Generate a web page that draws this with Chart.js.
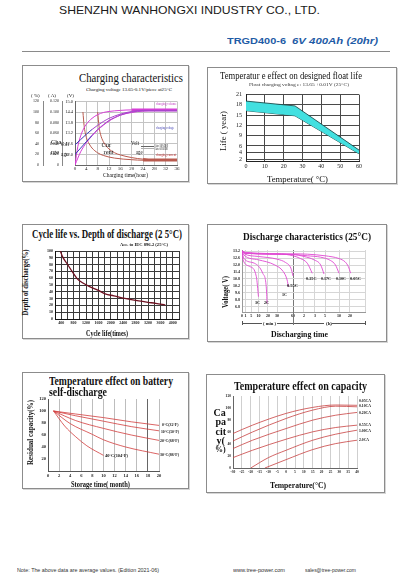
<!DOCTYPE html>
<html>
<head>
<meta charset="utf-8">
<script src="https://cdn.jsdelivr.net/npm/chart.js@4.4.1/dist/chart.umd.min.js"></script>
<style>
  html, body { margin: 0; padding: 0; background: #fff; }
  body { width: 407px; height: 575px; position: relative; overflow: hidden; }
  .panel { position: absolute; border: 1px solid #8c8c8c; box-shadow: 1px 1px 0 #d6d6d6; box-sizing: border-box; background: #fff; }
  canvas { position: absolute; }
  .t { position: absolute; white-space: nowrap; line-height: 1; }
  .ln { position: absolute; }
</style>
</head>
<body>
<script>
const SERIF = '"Liberation Serif","DejaVu Serif",serif';
const SANS = '"Liberation Sans",Arial,sans-serif';

// ---------- data ----------
// charging characteristics (hours, % of left scale)
const pctTicks = ['0', '20', '40', '60', '80', '100', '120'];
const ampTicks = ['0', '0.020', '0.040', '0.060', '0.080', '0.100', '0.120'];
const chargeVoltTicks = ['', '12.0', '12.6', '13.2', '13.8', '14.4', '15.0'];
const chargeVolumeA = [[0,0],[1,35],[2,55],[3,68],[4,77],[6,88],[8,95],[10,99],[12,101],[16,103],[20,104],[24,104],[28,104],[32,104],[36,104]];
const chargeVolumeB = [[0,0],[2,25],[4,42],[6,55],[8,66],[10,75],[12,83],[14,89],[16,94],[20,99],[24,102],[28,103],[32,103],[36,103]];
const chargeVoltageA = [[0,38],[2,48],[4,58],[6,67],[8,75],[10,82],[12,88],[16,96],[20,101],[24,103],[28,103],[32,103],[36,103]];
const chargeVoltageB = [[0,20],[2,32],[4,44],[6,56],[8,67],[10,76],[12,84],[16,94],[20,100],[24,102],[28,102],[32,102],[36,102]];
const chargeCurrentA = [[2.8,100],[3.2,75],[4,52],[5,40],[6,32],[8,23],[10,18],[14,13],[20,10],[24,9],[28,9],[32,9],[36,9]];
const chargeCurrentB = [[8,100],[8.5,72],[9,58],[10,44],[11,36],[12,30],[14,23],[16,19],[20,14],[24,11],[28,10],[32,10],[36,10]];

// float life vs temperature (°C, years)
const lifeTicks = [2, 4, 6, 9, 12, 15, 18, 21];
const lifeTemps = [0, 26, 60];
const lifeUpper = [19.1, 17.7, 4.8];
const lifeLower = [16.3, 14.8, 3.7];

// cycle life vs depth of discharge
const cycleTimes = [370, 450, 580, 750, 920, 1100, 1300, 1600, 1820, 2100, 2360, 2650, 2900, 3200, 3450, 3760];
const cycleDod = [100, 91, 82, 70, 59, 53, 48, 42, 37, 34, 31, 28.5, 26.5, 24.5, 23, 20.5];

// discharge characteristics (minutes, volts)
const dischargeTimeTicks = [0, 1, 5, 10, 20, 30, 60, 120, 180, 300, 600, 1200, 2400];
const dischargeTimeLabels = ['0', '1', '5', '10', '20', '30', '60', '2', '3', '5', '10', '20', ''];
const dischargeVoltTicks = [13.2, 12.6, 12.0, 11.4, 10.8, 10.2, 9.6, 9.0, 8.4];
const dischargeVoltLabels = ['13.2', '12.6', '12.0', '11.4', '10.8', '10.2', '9.6', '8.8', '6.8'];
const dis005 = [[0,13.25],[1,13.1],[60,12.97],[138,12.94],[300,12.8],[600,12.56],[935,12.27],[1110,11.87],[1250,11.3]];
const dis010 = [[0,13.2],[1,13.05],[60,12.91],[138,12.8],[248,12.68],[419,12.39],[523,12.01],[600,11.29]];
const dis017 = [[0,13.2],[1,13.02],[60,12.91],[120,12.74],[175,12.45],[248,12.01],[288,11.23]];
const dis025 = [[0,13.2],[1,13.0],[32,12.97],[60,12.8],[101,12.56],[138,12.16],[165,11.29]];
const dis055 = [[0,13.2],[0.5,13.0],[10,12.74],[30,12.51],[46,12.22],[56,11.73],[60,11.06]];
const dis1c = [[0,13.2],[0.5,12.88],[10,12.45],[27.5,12.01],[41.6,11.44],[48.9,10.71],[51.3,10.13]];
const dis2c = [[0,13.2],[0.5,12.59],[7.1,12.16],[14.5,11.29],[18.2,10.13],[19.1,8.69]];
const dis3c = [[0,13.2],[0.3,12.45],[4.1,11.87],[8.5,11.0],[10,9.27]];

// self-discharge (months, %)
const sd0 = [[1,100],[5,95],[10,89],[15,82],[20,76]];
const sd10 = [[1,100],[5,92],[10,83],[15,74],[20,67]];
const sd20 = [[1,100],[5,84],[10,71],[15,60],[20,51]];
const sd30 = [[1,100],[4,79],[8,61],[10,52],[14,40],[20,28]];
const sd40 = [[1,100],[3,75],[5,57],[7,42],[10,26]];

// capacity vs temperature (°C, %)
const cap005 = [[-30,57.5],[-19,71.4],[0,91],[15,101],[28,105],[40,104.5]];
const cap010 = [[-30,45],[-19,60],[0,82.6],[15,96.5],[28,103],[40,102]];
const cap020 = [[-30,32.4],[-19,46.3],[0,65.8],[15,79.8],[28,88],[40,92.6]];
const cap055 = [[-30,17.3],[-19,29.6],[0,48],[15,60.3],[28,67.5],[40,71.4]];
const cap100 = [[-20,0],[-10,17.3],[0,29.6],[15,46.3],[28,56.4],[40,63]];
const cap200 = [[-12,0],[0,14],[15,30.7],[28,40.7],[40,46.3]];

// ---------- helpers ----------
function box(x, y, w, h) {
  const d = document.createElement('div');
  d.className = 'panel';
  Object.assign(d.style, { left: x + 'px', top: y + 'px', width: w + 'px', height: h + 'px' });
  document.body.appendChild(d);
}
function rule(x, y, w, h, color) {
  const d = document.createElement('div');
  d.className = 'ln';
  Object.assign(d.style, { left: x + 'px', top: y + 'px', width: w + 'px', height: h + 'px', background: color });
  document.body.appendChild(d);
}
function txt(s, x, y, o) {
  o = o || {};
  const size = o.size || 6;
  const d = document.createElement('div');
  d.className = 't';
  d.textContent = s;
  d.style.font = (o.style || 'normal') + ' ' + (o.weight || 'normal') + ' ' + size + 'px ' + (o.family || SERIF);
  d.style.color = o.color || '#111';
  document.body.appendChild(d);
  const nw = d.getBoundingClientRect().width;
  const sx = o.w ? o.w / nw : 1;
  if (o.rot) {
    d.style.left = (x - nw / 2) + 'px';
    d.style.top = (y - size / 2) + 'px';
    d.style.transformOrigin = 'center center';
    d.style.transform = 'rotate(-90deg) scaleX(' + sx + ')';
  } else {
    d.style.left = x + 'px';
    d.style.top = (y - size / 2) + 'px';
    d.style.transformOrigin = 'left center';
    d.style.transform = 'scaleX(' + sx + ')';
  }
}
function pts(a) { return a.map(p => ({ x: p[0], y: p[1] })); }
function zip(xs, ys) { return xs.map((x, i) => ({ x: x, y: ys[i] })); }
function curve(a, color, w, extra) {
  return Object.assign({ data: pts(a), borderColor: color, borderWidth: w || 1, cubicInterpolationMode: 'monotone', pointRadius: 0, fill: false }, extra || {});
}
function tickFont(size, weight) { return { family: SERIF, size: size, weight: weight || 'normal' }; }

// plot = [left, top, right, bottom] of the chart area on the page, m = margins around it
function makeChart(plot, m, config) {
  const c = document.createElement('canvas');
  const w = plot[2] - plot[0] + m.l + m.r, h = plot[3] - plot[1] + m.t + m.b;
  c.width = w; c.height = h;
  Object.assign(c.style, { left: (plot[0] - m.l) + 'px', top: (plot[1] - m.t) + 'px', width: w + 'px', height: h + 'px' });
  document.body.appendChild(c);
  config.options = Object.assign({
    responsive: false, animation: false, devicePixelRatio: 1,
    layout: { padding: { left: 0, top: m.t, right: m.r, bottom: 0 } },
    plugins: { legend: { display: false }, tooltip: { enabled: false } },
    elements: { point: { radius: 0 } }
  }, config.options);
  return new Chart(c, config);
}

// piecewise time axis of the discharge chart
const timeAxisFractions = [0, 0.028, 0.076, 0.134, 0.211, 0.285, 0.415, 0.504, 0.593, 0.675, 0.789, 0.878, 1];
class PiecewiseScale extends Chart.LinearScale {
  buildTicks() { return dischargeTimeTicks.map(v => ({ value: v })); }
  getPixelForValue(value) {
    const t = dischargeTimeTicks, f = timeAxisFractions;
    let dec = value <= t[0] ? f[0] : f[f.length - 1];
    for (let i = 1; i < t.length; i++) {
      if (value > t[i - 1] && value <= t[i]) {
        dec = f[i - 1] + (value - t[i - 1]) / (t[i] - t[i - 1]) * (f[i] - f[i - 1]);
        break;
      }
    }
    return this.getPixelForDecimal(dec);
  }
  getValueForPixel(pixel) {
    const t = dischargeTimeTicks, f = timeAxisFractions;
    const dec = this.getDecimalForPixel(pixel);
    for (let i = 1; i < f.length; i++) {
      if (dec <= f[i]) return t[i - 1] + (dec - f[i - 1]) / (f[i] - f[i - 1]) * (t[i] - t[i - 1]);
    }
    return t[t.length - 1];
  }
}
PiecewiseScale.id = 'piecewise';
PiecewiseScale.defaults = Chart.LinearScale.defaults;
Chart.register(PiecewiseScale);

// ---------- page frame ----------
txt('SHENZHN WANHONGXI INDUSTRY CO., LTD.', 59, 10, { family: SANS, size: 11.5, w: 261, color: '#1a1a1a' });
txt('TRGD400-6', 227, 40, { family: SANS, size: 9.5, weight: 'bold', color: '#1f5ca6', w: 59 });
txt('6V 400Ah (20hr)', 292, 40, { family: SANS, size: 9.5, weight: 'bold', style: 'italic', color: '#1f5ca6', w: 86 });
rule(22, 51, 368, 1, '#8a8a8a');

box(22, 65, 167, 117);
box(207, 67, 190, 117);
box(22, 224, 167, 115);
box(207, 224, 180, 118);
box(22, 372, 167, 117);
box(206, 374, 179, 119);

// ---------- 1. charging characteristics ----------
const volColor = '#d63fd6', curColor = '#b85a4e';
const voltSeg = { segment: { borderColor: c => c.p0.parsed.x < 6 ? '#3a3ab8' : '#a846cc' } };
const thickAfter = h => ({ segment: { borderWidth: c => c.p0.parsed.x >= h ? 2.6 : 1 } });
makeChart([75, 100, 177, 165], { l: 52, t: 5, r: 8, b: 10 }, {
  type: 'line',
  data: { datasets: [
    curve(chargeVoltageA, '#3a3ab8', 1, voltSeg),
    curve(chargeVoltageB, '#3a3ab8', 1, voltSeg),
    curve(chargeVolumeA, volColor, 1, thickAfter(20)),
    curve(chargeVolumeB, volColor, 1),
    curve(chargeCurrentA, curColor, 1, thickAfter(24)),
    curve(chargeCurrentB, curColor, 1, thickAfter(24))
  ] },
  options: { scales: {
    x: { type: 'linear', min: 0, max: 36,
      ticks: { stepSize: 4, autoSkip: false, maxRotation: 0, padding: 1, font: tickFont(5), color: '#222' },
      grid: { color: '#c4c4c4', lineWidth: 1, drawTicks: false }, border: { color: '#666', width: 1 },
      afterFit: s => { s.height = 10; } },
    y: { type: 'linear', position: 'left', weight: 0, min: 0, max: 120,
      ticks: { stepSize: 20, autoSkip: false, padding: 2, font: tickFont(4.5), color: '#222', callback: (v, i) => chargeVoltTicks[i] },
      grid: { color: '#c4c4c4', lineWidth: 1, drawTicks: false }, border: { color: '#666', width: 1 },
      afterFit: s => { s.width = 13; } },
    yA: { type: 'linear', position: 'left', weight: 1, min: 0, max: 120,
      ticks: { stepSize: 20, autoSkip: false, padding: 3, font: tickFont(4), color: '#222', callback: (v, i) => ampTicks[i] },
      grid: { display: false, drawTicks: false }, border: { color: '#888', width: 1 },
      afterFit: s => { s.width = 19; } },
    yP: { type: 'linear', position: 'left', weight: 2, min: 0, max: 120,
      ticks: { stepSize: 20, autoSkip: false, padding: 4, font: tickFont(4), color: '#222', callback: (v, i) => pctTicks[i] },
      grid: { display: false, drawTicks: false }, border: { color: '#888', width: 1 },
      afterFit: s => { s.width = 20; } }
  } }
});
txt('Charging characteristics', 79, 76.5, { size: 13, w: 104 });
txt('Charging voltage   13.65-0.1V/piece  at25°C', 86, 89, { size: 5, w: 86 });
txt('( %)', 31, 95, { size: 5 });
txt('( A)', 48, 95, { size: 5 });
txt('(V)', 67, 95, { size: 5 });
txt('Cha', 51, 141, { size: 6.5 });
txt('Volt', 60, 143.5, { size: 5.5 });
txt('rge', 51, 151, { size: 6.5 });
txt('age', 61, 153.5, { size: 5.5 });
txt('Cur', 101.5, 144, { size: 6.5 });
txt('rent', 103.5, 151, { size: 6.5 });
txt('Volt', 131, 142, { size: 7, w: 8 });
txt('age', 136, 151, { size: 7, w: 6.5 });
rule(141, 145.5, 13, 0.7, '#666');
rule(141, 148.3, 13, 0.7, '#b0b0b0');
txt('After 100%DOD', 155, 145.3, { size: 3.5, w: 13 });
txt('After 50%DOD', 155, 148.3, { size: 3.5, w: 13 });
txt('charging volume', 155.5, 104, { size: 3.5, w: 20.5, color: '#c03cc0' });
txt('charging voltage', 155.5, 127.3, { size: 3.5, w: 18, color: '#3a3ab0' });
txt('charging current', 155.5, 155, { size: 3.5, w: 20, color: '#c03030' });
txt('Charging time(hour)', 103, 174.5, { size: 6.5, w: 45 });

// ---------- 2. float life ----------
makeChart([246, 92, 359, 161], { l: 20, t: 5, r: 8, b: 11 }, {
  type: 'line',
  data: { datasets: [
    { data: zip(lifeTemps, lifeUpper), borderColor: '#1d4d4d', borderWidth: 0.9, backgroundColor: '#42e0e0', fill: '+1', tension: 0 },
    { data: zip(lifeTemps, lifeLower), borderColor: '#1d4d4d', borderWidth: 0.9, fill: false, tension: 0 }
  ] },
  options: { scales: {
    x: { type: 'linear', min: 0, max: 60,
      ticks: { stepSize: 10, autoSkip: false, maxRotation: 0, padding: 2, font: tickFont(6), color: '#222' },
      grid: { color: '#4a4a4a', lineWidth: 1, drawTicks: false }, border: { color: '#222', width: 1 },
      afterFit: s => { s.height = 11; } },
    y: { type: 'linear', min: 1.6, max: 21,
      afterBuildTicks: s => { s.ticks = lifeTicks.map(v => ({ value: v })); },
      ticks: { autoSkip: false, padding: 4, font: tickFont(6), color: '#222' },
      grid: { color: '#4a4a4a', lineWidth: 1, drawTicks: false }, border: { color: '#222', width: 1 },
      afterFit: s => { s.width = 20; } }
  } }
});
txt('Temperatur e effect on designed  float life', 220, 75, { size: 10, w: 142 });
txt('Float charging voltag e:  13.65 +0.01V (25°C)', 249, 84, { size: 4.5, w: 100, color: '#333' });
txt('Life ( year)', 223.5, 130, { size: 9, w: 40, rot: true });
txt('Temperature( °C)', 267, 178, { size: 8.5, w: 61 });

// ---------- 3. cycle life ----------
makeChart([55, 251, 179, 319], { l: 16, t: 5, r: 8, b: 8 }, {
  type: 'line',
  data: { datasets: [
    { data: zip(cycleTimes, cycleDod), borderColor: '#6e1020', borderWidth: 1.3, cubicInterpolationMode: 'monotone', fill: false }
  ] },
  options: { scales: {
    x: { type: 'linear', min: 200, max: 4200,
      ticks: { stepSize: 200, autoSkip: false, maxRotation: 0, padding: 2, font: tickFont(4, 'bold'), color: '#222',
        callback: v => (v % 400 === 0 && v >= 400 && v <= 4000) ? String(v) : '' },
      grid: { color: '#3a3a3a', lineWidth: 1, drawTicks: false }, border: { color: '#111', width: 1 },
      afterFit: s => { s.height = 8; } },
    y: { type: 'linear', min: 0, max: 100,
      ticks: { stepSize: 10, autoSkip: false, padding: 2, font: tickFont(4, 'bold'), color: '#222' },
      grid: { color: '#3a3a3a', lineWidth: 1, drawTicks: false }, border: { color: '#111', width: 1 },
      afterFit: s => { s.width = 16; } }
  } }
});
txt('Cycle life vs. Depth of discharge (2 5°C)', 32, 234, { size: 11.5, weight: 'bold', w: 150 });
txt('Acc. to IEC 896-2 (25°C)', 120, 244.5, { size: 4.5, weight: 'bold', w: 48 });
txt('Depth of discharge(%)', 25, 282, { size: 7.5, weight: 'bold', w: 66, rot: true });
txt('Cycle life(times)', 86, 333, { size: 7.5, weight: 'bold', w: 42 });

// ---------- 4. discharge characteristics ----------
const disColor = '#e04ad2';
makeChart([242, 250, 365, 312], { l: 14, t: 5, r: 6, b: 8 }, {
  type: 'line',
  data: { datasets: [dis005, dis010, dis017, dis025, dis055, dis1c, dis2c, dis3c].map(d => curve(d, disColor, 0.9)) },
  options: { scales: {
    x: { type: 'piecewise', min: 0, max: 2400,
      ticks: { autoSkip: false, maxRotation: 0, padding: 2, font: tickFont(4, 'bold'), color: '#222',
        callback: (v, i) => dischargeTimeLabels[i] },
      grid: { color: c => (c.tick && c.tick.value === 60) ? '#777' : '#d6d6d6', lineWidth: 1, drawTicks: false },
      border: { color: '#999', width: 1 },
      afterFit: s => { s.height = 8; } },
    y: { type: 'linear', min: 7.95, max: 13.3,
      afterBuildTicks: s => { s.ticks = dischargeVoltTicks.map(v => ({ value: v })); },
      ticks: { autoSkip: false, padding: 2, font: tickFont(4, 'bold'), color: '#222',
        callback: v => dischargeVoltLabels[dischargeVoltTicks.indexOf(v)] },
      grid: { color: '#d6d6d6', lineWidth: 1, drawTicks: false }, border: { color: '#999', width: 1 },
      afterFit: s => { s.width = 14; } }
  } }
});
txt('Discharge  characteristics (25°C)', 243, 236, { size: 10.5, weight: 'bold', w: 128 });
txt('Voltage(  V)', 225, 291, { size: 8.5, weight: 'bold', w: 32, rot: true });
txt('Discharging time', 271, 333.5, { size: 8.5, weight: 'bold', w: 57 });
rule(242, 323, 20, 0.7, '#555');
rule(277, 323, 16, 0.7, '#555');
rule(293, 323, 31, 0.7, '#555');
rule(332, 323, 33, 0.7, '#555');
rule(242, 321, 0.7, 4, '#555');
rule(293, 312, 0.7, 13, '#777');
rule(364.5, 321, 0.7, 4, '#555');
txt('( min )', 263, 323.5, { size: 4.5, weight: 'bold', w: 13 });
txt('(h)', 325.5, 323.5, { size: 4.5, weight: 'bold', w: 6 });
txt('0.25C', 306, 277.7, { size: 4.2, weight: 'bold', w: 10.5 });
txt('0.17C', 321, 277.7, { size: 4.2, weight: 'bold', w: 10 });
txt('0.10C', 336, 277.7, { size: 4.2, weight: 'bold', w: 10 });
txt('0.05C', 350, 277.7, { size: 4.2, weight: 'bold', w: 11 });
txt('0.55C', 287, 285.3, { size: 4.2, weight: 'bold', w: 11 });
txt('1C', 282, 294, { size: 4.2, weight: 'bold', w: 5 });
txt('3C', 255, 301.7, { size: 4.2, weight: 'bold', w: 5 });
txt('2C', 264, 301.7, { size: 4.2, weight: 'bold', w: 5 });

// ---------- 5. self-discharge ----------
const sdColor = '#d23c3c';
makeChart([48, 399, 159, 471], { l: 14, t: 5, r: 6, b: 9 }, {
  type: 'line',
  data: { datasets: [sd0, sd10, sd20, sd30, sd40].map(d => curve(d, sdColor, 0.8)) },
  options: { scales: {
    x: { type: 'linear', min: 0, max: 20,
      ticks: { stepSize: 2, autoSkip: false, maxRotation: 0, padding: 2, font: tickFont(4.5, 'bold'), color: '#222' },
      grid: { color: c => (c.tick && c.tick.value === 18) ? '#666' : '#bdbdbd', lineWidth: 1, drawTicks: false },
      border: { color: '#555', width: 1 },
      afterFit: s => { s.height = 9; } },
    y: { type: 'linear', min: 0, max: 120,
      ticks: { stepSize: 20, autoSkip: false, padding: 2, font: tickFont(4.5, 'bold'), color: '#222', callback: v => v === 0 ? '' : String(v) },
      grid: { display: false, drawTicks: false }, border: { color: '#555', width: 1 },
      afterFit: s => { s.width = 14; } }
  } }
});
txt('Temperature effect on battery', 49, 381, { size: 11.5, weight: 'bold', w: 124 });
txt('self-discharge', 49, 392, { size: 11.5, weight: 'bold', w: 58 });
txt('Residual capacity(%)', 30, 432, { size: 7.5, weight: 'bold', w: 65, rot: true });
txt('Storage time( month)', 71, 484, { size: 7.5, weight: 'bold', w: 59 });
txt('0°C(32°F)', 161.5, 424.3, { size: 4, weight: 'bold', w: 16.5 });
txt('10°C(50°F)', 161, 431, { size: 4, weight: 'bold', w: 18 });
txt('20°C(68°F)', 159.5, 440.3, { size: 4, weight: 'bold', w: 19 });
txt('30°C(86°F)', 160, 454.3, { size: 4, weight: 'bold', w: 19 });
txt('40°C(104°F)', 105, 455.3, { size: 4, weight: 'bold', w: 23 });

// ---------- 6. capacity vs temperature ----------
const capColor = '#c84040';
makeChart([233, 396, 357, 468], { l: 12, t: 5, r: 6, b: 9 }, {
  type: 'line',
  data: { datasets: [cap005, cap010, cap020, cap055, cap100, cap200].map(d => curve(d, capColor, 0.8)) },
  options: { scales: {
    x: { type: 'linear', min: -30, max: 40,
      ticks: { stepSize: 5, autoSkip: false, maxRotation: 0, padding: 2, font: tickFont(3.6, 'bold'), color: '#222' },
      grid: { color: '#cfcfcf', lineWidth: 1, drawTicks: false }, border: { color: '#666', width: 1 },
      afterFit: s => { s.height = 9; } },
    y: { type: 'linear', min: 0, max: 120,
      ticks: { stepSize: 20, autoSkip: false, padding: 2, font: tickFont(3.6, 'bold'), color: '#222' },
      grid: { display: false, drawTicks: false }, border: { color: '#666', width: 1 },
      afterFit: s => { s.width = 12; } }
  } }
});
txt('Temperature effect on  capacity', 234, 385, { size: 12, weight: 'bold', w: 133 });
txt('Ca', 213.5, 412, { size: 10, weight: 'bold' });
txt('pa', 215.5, 421, { size: 10, weight: 'bold' });
txt('cit', 215.5, 431, { size: 10, weight: 'bold' });
txt('y(', 216.5, 440, { size: 10, weight: 'bold' });
txt('%)', 215, 449, { size: 8, weight: 'bold' });
txt('Temperature(°C)', 270, 484.5, { size: 8.5, weight: 'bold', w: 56 });
txt('0.05CA', 359, 401, { size: 3.8, weight: 'bold', w: 12 });
txt('0.10CA', 359, 406, { size: 3.8, weight: 'bold', w: 12 });
txt('0.20CA', 359, 413, { size: 3.8, weight: 'bold', w: 12 });
txt('0.55CA', 359, 425.3, { size: 3.8, weight: 'bold', w: 12 });
txt('1.00CA', 359, 431, { size: 3.8, weight: 'bold', w: 12 });
txt('2.0CA', 359, 440, { size: 3.8, weight: 'bold', w: 10 });

// ---------- footer ----------
txt('Note: The above data are average values. (Edition 2021-06)', 17, 569, { family: SANS, size: 5, w: 142, color: '#333' });
txt('www.tree-power.com', 233, 569, { family: SANS, size: 5, w: 52, color: '#333' });
txt('sales@tree-power.com', 305, 569, { family: SANS, size: 5, w: 51, color: '#333' });
</script>
</body>
</html>
